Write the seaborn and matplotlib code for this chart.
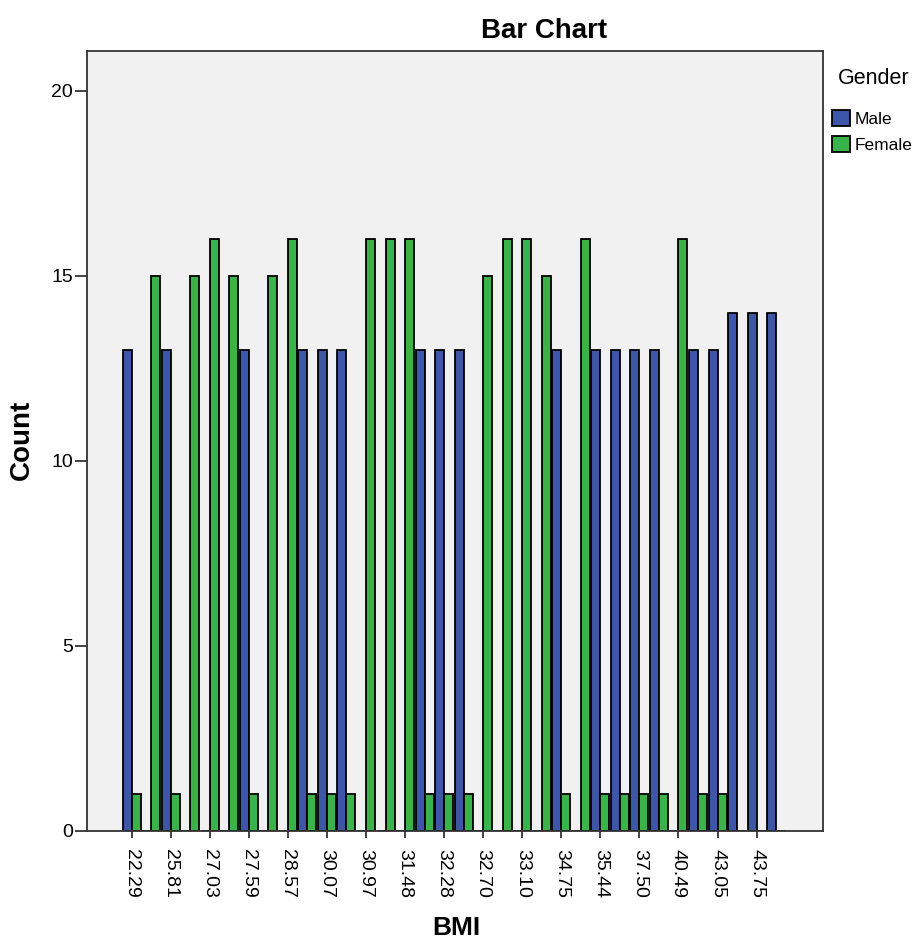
import matplotlib
matplotlib.use("Agg")
import matplotlib.pyplot as plt
import seaborn as sns
import pandas as pd

# BMI groups in axis order; only every other group carries a printed label
n_groups = 34
bmi_tick_labels = ["22.29", "25.81", "27.03", "27.59", "28.57", "30.07", "30.97",
                   "31.48", "32.28", "32.70", "33.10", "34.75", "35.44", "37.50",
                   "40.49", "43.05", "43.75"]

male_counts = [13, 0, 13, 0, 0, 0, 13, 0, 0, 13, 13, 13, 0, 0, 0, 13, 13,
               13, 0, 0, 0, 0, 13, 0, 13, 13, 13, 13, 0, 13, 13, 14, 14, 14]
female_counts = [1, 15, 1, 15, 16, 15, 1, 15, 16, 1, 1, 1, 16, 16, 16, 1, 1,
                 1, 15, 16, 16, 15, 1, 16, 1, 1, 1, 1, 16, 1, 1, 0, 0, 0]

genders = ["Male", "Female"]
colors = {"Male": "#3D56A8", "Female": "#3AB44A"}

sns.set_style("white")
plt.rcParams["font.family"] = ["Liberation Sans", "DejaVu Sans"]
plt.rcParams["text.color"] = "black"
plt.rcParams["xtick.color"] = "black"
plt.rcParams["ytick.color"] = "black"
plt.rcParams["axes.labelcolor"] = "black"

group_idx = list(range(n_groups))
df = pd.DataFrame({
    "group": group_idx * 2,
    "Gender": ["Male"] * n_groups + ["Female"] * n_groups,
    "Count": male_counts + female_counts,
})

W, H = 915, 943
fig = plt.figure(figsize=(W / 100, H / 100), dpi=100)
left, right, top, bottom = 86.7, 823, 51, 830.7
ax = fig.add_axes([left / W, (H - bottom) / H, (right - left) / W, (bottom - top) / H])
ax.set_facecolor("#F0F1F0")

sns.barplot(data=df, x="group", y="Count", hue="Gender", hue_order=genders,
            palette=colors, width=0.92, edgecolor="black", linewidth=1.3,
            saturation=1, ax=ax)

ax.set_xlim(-2.3, 35.4)
ax.set_ylim(0, 21.07)

ax.set_xticks(range(0, n_groups, 2))
ax.set_xticklabels(bmi_tick_labels, rotation=270, ha="center", va="top")
ax.set_yticks([0, 5, 10, 15, 20])
ax.set_yticklabels(["0", "5", "10", "15", "20"])
ax.tick_params(axis="x", length=5, width=1.2, pad=8, labelsize=14,
               color="#222222", labelcolor="black")
ax.tick_params(axis="y", length=9, width=1.2, pad=1, labelsize=14,
               color="#222222", labelcolor="black")
ax.tick_params(axis="both", which="both", bottom=True, left=True, direction="out")

for s in ax.spines.values():
    s.set_color("#333333")
    s.set_linewidth(1.3)
    s.set_visible(True)

ax.set_xlabel("")
ax.set_ylabel("")
fig.text(22 / W, 1 - 440 / H, "Count", rotation=90, fontsize=20, fontweight="bold",
         ha="center", va="center", color="black")
fig.text(456 / W, 1 - 928 / H, "BMI", fontsize=19, fontweight="bold",
         ha="center", va="center", color="black")
fig.text(544 / W, 1 - 31 / H, "Bar Chart", fontsize=20, fontweight="bold",
         ha="center", va="center", color="black")

# Legend: title as its own text, entries below it
fig.text(838 / W, 1 - 79 / H, "Gender", fontsize=15.5, ha="left", va="center",
         color="black")
handles, labels = ax.get_legend_handles_labels()
ax.get_legend().remove()
leg = fig.legend(handles, labels, loc="upper left",
                 bbox_to_anchor=(832 / W, 1 - 110 / H), bbox_transform=fig.transFigure,
                 frameon=False, fontsize=12.5,
                 handlelength=1.05, handleheight=1.05, handletextpad=0.25,
                 labelspacing=0.5, borderpad=0, borderaxespad=0)
for t in leg.get_texts():
    t.set_color("black")

fig.savefig("out.png", dpi=100, facecolor="white")
